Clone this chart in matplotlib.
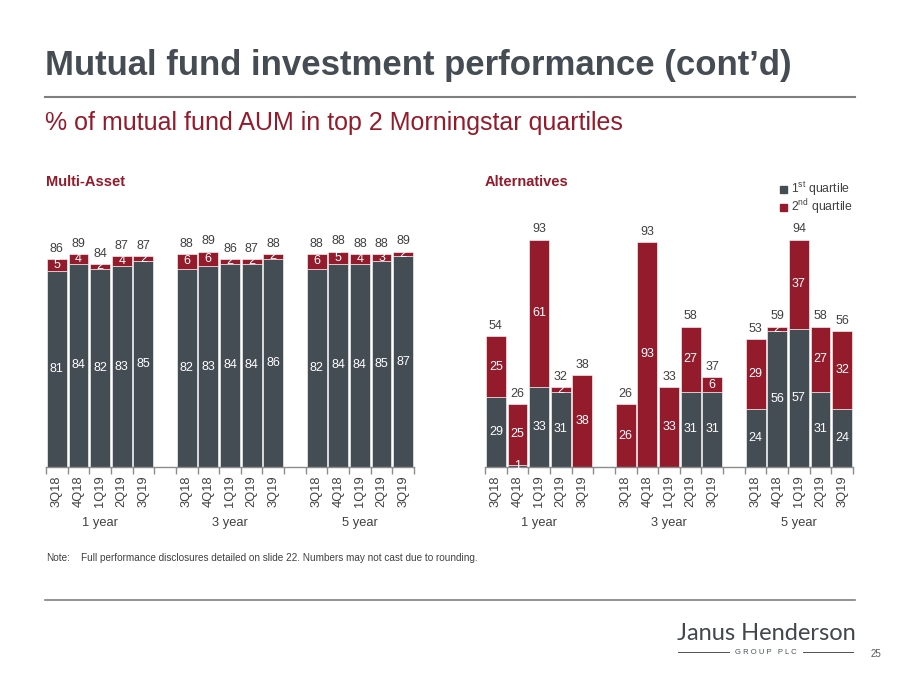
import matplotlib.pyplot as plt
import numpy as np

plt.rcParams['font.family'] = ['Liberation Sans', 'DejaVu Sans']
plt.rcParams['mathtext.fontset'] = 'custom'
plt.rcParams['mathtext.rm'] = 'Liberation Sans'

GREY = '#454d54'
RED = '#931b2b'
TXT = '#404040'

quarters = ["3Q18", "4Q18", "1Q19", "2Q19", "3Q19"]
periods = ["1 year", "3 year", "5 year"]

# Multi-Asset (1 year, 3 year, 5 year)
ma_first = [81, 84, 82, 83, 85, 82, 83, 84, 84, 86, 82, 84, 84, 85, 87]
ma_second = [5, 4, 2, 4, 2, 6, 6, 2, 2, 2, 6, 5, 4, 3, 2]
ma_total = [86, 89, 84, 87, 87, 88, 89, 86, 87, 88, 88, 88, 88, 88, 89]

# Alternatives
alt_first = [29, 1, 33, 31, 0, 0, 0, 0, 31, 31, 24, 56, 57, 31, 24]
alt_second = [25, 25, 61, 2, 38, 26, 93, 33, 27, 6, 29, 2, 37, 27, 32]
alt_total = [54, 26, 93, 32, 38, 26, 93, 33, 58, 37, 53, 59, 94, 58, 56]

W, H = 900, 675
fig = plt.figure(figsize=(9, 6.75), dpi=100)


def px_axes(x0, y0, x1, y1):
    return fig.add_axes([x0 / W, 1 - y1 / H, (x1 - x0) / W, (y1 - y0) / H])


# positions: 5 bars, empty slot, 5 bars, empty slot, 5 bars
pos = np.array([g * 6 + i for g in range(3) for i in range(5)])


def draw_panel(ax, first, second, total):
    ax.bar(pos, first, width=0.92, color=GREY, edgecolor='white', linewidth=0.4)
    ax.bar(pos, second, bottom=first, width=0.92, color=RED, edgecolor='white', linewidth=0.4)
    for x, a, b, t in zip(pos, first, second, total):
        if a > 0:
            ax.text(x, a / 2, str(a), ha='center', va='center', color='white', fontsize=9)
        if b > 0:
            ax.text(x, a + b / 2, str(b), ha='center', va='center', color='white', fontsize=9)
        ax.annotate(str(t), (x, a + b), xytext=(0, 3), textcoords='offset points',
                    ha='center', va='bottom', color=TXT, fontsize=9)
    ax.set_xlim(-0.5, 16.5)
    ax.set_ylim(0, 100)
    for s in ['top', 'right', 'left']:
        ax.spines[s].set_visible(False)
    ax.spines['bottom'].set_color('#8c8c8c')
    ax.spines['bottom'].set_linewidth(1.0)
    ax.set_yticks([])
    ax.set_xticks(pos)
    ax.set_xticklabels(quarters * 3, rotation=90, fontsize=9.3, color=TXT)
    ax.tick_params(axis='x', which='major', length=0, pad=6)
    ax.set_xticks(np.arange(-0.5, 17, 1), minor=True)
    ax.tick_params(axis='x', which='minor', length=5, color='#8c8c8c', width=1.0)
    for g, name in enumerate(periods):
        ax.text(g * 6 + 2, -0.23, name, transform=ax.get_xaxis_transform(),
                ha='center', va='center', fontsize=9.3, color=TXT)


ax1 = px_axes(46, 225, 414, 467)
draw_panel(ax1, ma_first, ma_second, ma_total)
ax2 = px_axes(485, 225, 853, 467)
draw_panel(ax2, alt_first, alt_second, alt_total)

# legend
fig.patches.append(plt.Rectangle((780 / W, 1 - 193 / H), 7 / W, 7 / H, color=GREY, transform=fig.transFigure))
fig.patches.append(plt.Rectangle((780 / W, 1 - 211 / H), 7 / W, 7 / H, color=RED, transform=fig.transFigure))
fig.text(791 / W, 1 - 189 / H, "1$^{\\mathrm{st}}$ quartile", fontsize=8.8, color=TXT, va='center')
fig.text(791 / W, 1 - 207 / H, "2$^{\\mathrm{nd}}$ quartile", fontsize=8.8, color=TXT, va='center')

# titles and text
fig.text(45 / W, 1 - 66 / H, "Mutual fund investment performance (cont\u2019d)",
         fontsize=25, fontweight='bold', color='#454c53', va='center')
fig.add_artist(plt.Line2D([45 / W, 855 / W], [1 - 97 / H, 1 - 97 / H], color='#7f7f7f', lw=1.5))
fig.text(45 / W, 1 - 123 / H, "% of mutual fund AUM in top 2 Morningstar quartiles",
         fontsize=18, color=RED, va='center')
fig.text(46 / W, 1 - 182 / H, "Multi-Asset", fontsize=10.5, fontweight='bold', color=RED, va='center')
fig.text(485 / W, 1 - 182 / H, "Alternatives", fontsize=10.5, fontweight='bold', color=RED, va='center')

fig.text(46 / W, 1 - 558 / H, "Note:", fontsize=7.2, color=TXT, va='center')
fig.text(81 / W, 1 - 558 / H, "Full performance disclosures detailed on slide 22. Numbers may not cast due to rounding.",
         fontsize=7.2, color=TXT, va='center')
fig.add_artist(plt.Line2D([45 / W, 855 / W], [1 - 600 / H, 1 - 600 / H], color='#7f7f7f', lw=1.2))

# logo
fig.text(766 / W, 1 - 634 / H, "Janus Henderson", fontsize=17, family='Lato', color='#41474d',
         ha='center', va='center')
fig.text(766 / W, 1 - 652 / H, "G R O U P   P L C", fontsize=5.5, color='#4b5157', ha='center', va='center')
fig.add_artist(plt.Line2D([678 / W, 729 / W], [1 - 652 / H] * 2, color='#4b5157', lw=0.7))
fig.add_artist(plt.Line2D([803 / W, 853 / W], [1 - 652 / H] * 2, color='#4b5157', lw=0.7))
fig.text(876 / W, 1 - 654 / H, "25", fontsize=7, color='#595959', ha='center', va='center')

fig.savefig("out.png", dpi=100)
